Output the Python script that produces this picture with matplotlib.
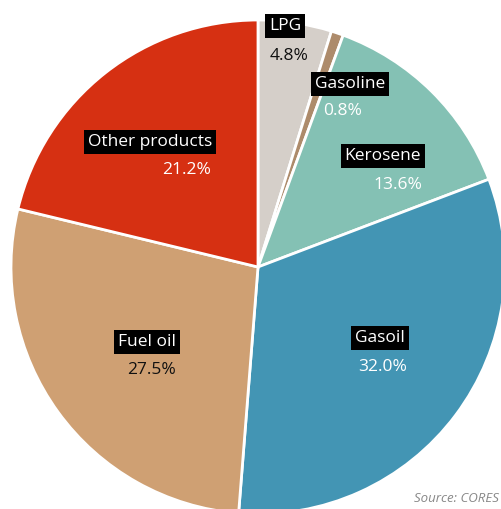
import matplotlib
matplotlib.use("Agg")
import matplotlib.pyplot as plt

# Refinery output share by product
products = ["LPG", "Gasoline", "Kerosene", "Gasoil", "Fuel oil", "Other products"]
shares = [4.8, 0.8, 13.6, 32.0, 27.5, 21.2]

colors = ["#d5cfc9", "#ad8b6b", "#84c1b4", "#4395b4", "#cfa073", "#d63012"]
pct_colors = ["#111111", "white", "white", "white", "#111111", "white"]
# label anchors (pixel coords from top-left): name box centre, percentage centre
name_pos = [(285, 26), (350, 84), (383, 156), (380, 338), (147, 342), (150, 142)]
pct_pos = [(289, 56), (343, 111), (398, 185), (383, 367), (152, 370), (187, 170)]

W, H = 502, 509
fig = plt.figure(figsize=(W / 100, H / 100), dpi=100)
ax = fig.add_axes([0, 0, 1, 1])

ax.pie(shares, colors=colors, startangle=90, counterclock=False,
       center=(258, H - 267), radius=247,
       wedgeprops=dict(edgecolor="white", linewidth=2), frame=True)
ax.set_xlim(0, W)
ax.set_ylim(0, H)
ax.set_aspect("equal")
ax.axis("off")

font = "Open Sans"
for name, share, npos, ppos, pc in zip(products, shares, name_pos, pct_pos, pct_colors):
    ax.text(npos[0], H - npos[1], name, ha="center", va="center", color="white",
            fontsize=12.5, family=font,
            bbox=dict(boxstyle="square,pad=0.22", facecolor="black", edgecolor="none"))
    ax.text(ppos[0], H - ppos[1], f"{share:.1f}%", ha="center", va="center",
            color=pc, fontsize=12.5, family=font)

ax.text(499, H - 499, "Source: CORES", ha="right", va="center", color="#888888",
        fontsize=9.5, style="italic", family=font)

fig.savefig("out.png", dpi=100)
